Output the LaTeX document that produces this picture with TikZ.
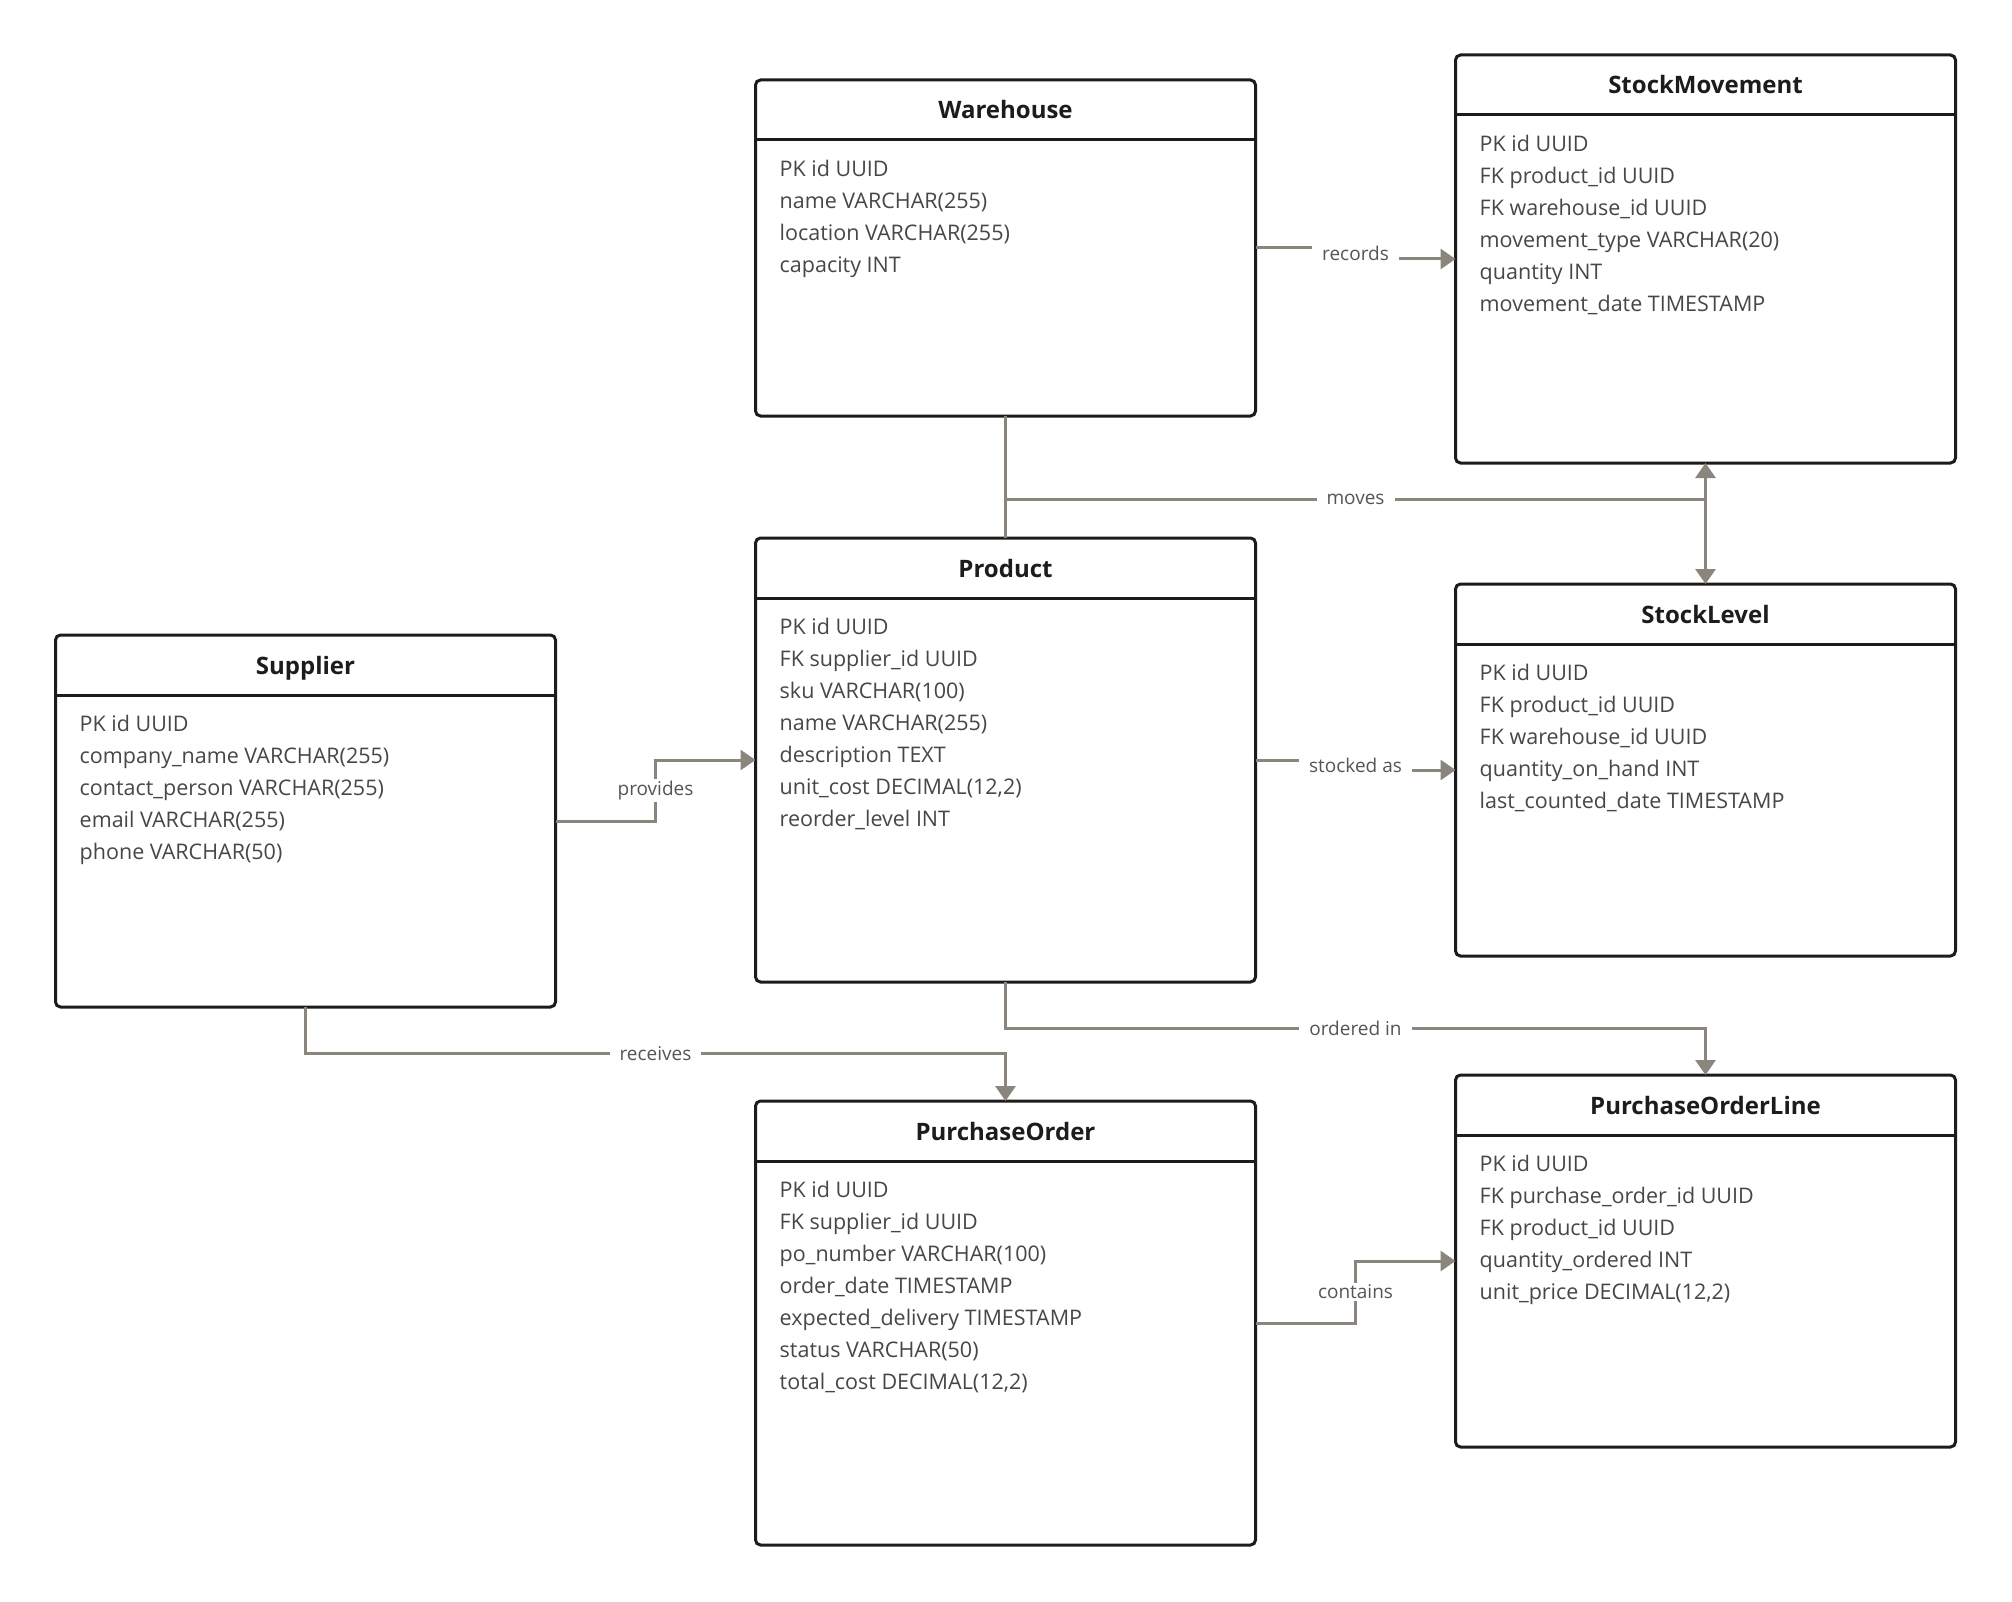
\documentclass[tikz,border=0pt]{standalone}
\usepackage{fontspec}
\setmainfont{Open Sans}
\usepackage{tikz}
\usetikzlibrary{arrows.meta, positioning, calc}
\usepackage{xcolor}

\definecolor{boxdark}{HTML}{1E1C1A}
\definecolor{relgray}{HTML}{8A857D}
\definecolor{fieldtext}{HTML}{474747}
\definecolor{labeltext}{HTML}{555555}

\begin{document}
\begin{tikzpicture}[
        x=1pt, y=-1pt,
        entity/.style={rectangle, draw=boxdark, line width=3pt, rounded corners=5pt, outer sep=0pt, minimum width=500pt, fill=white},
        etitle/.style={anchor=base, inner sep=0pt, text=boxdark, font=\fontsize{24}{28}\selectfont\bfseries},
        fields/.style={anchor=north west, inner sep=0pt, align=left, text=fieldtext, font=\fontsize{21.5}{32}\selectfont},
        headline/.style={draw=boxdark, line width=3pt},
        rel/.style={draw=relgray, line width=3pt, -{Triangle[length=15pt, width=20pt]}},
        lbl/.style={fill=white, inner xsep=10pt, inner ysep=2pt, text=labeltext, font=\fontsize{19}{22}\selectfont}
    ]
    \useasboundingbox (0,0) rectangle (2012,1602);

    % Warehouse
    \node[entity, minimum height=336pt] (warehouse) at (1005.5,248) {};
    \draw[headline] ([yshift=-60pt]warehouse.north west) -- ([yshift=-60pt]warehouse.north east);
    \node[etitle] (warehousetitle) at ([yshift=-39pt]warehouse.north) {Warehouse};
    \node[fields] (warehousefields) at ([xshift=24pt, yshift=-80pt]warehouse.north west) {PK id UUID\\name VARCHAR(255)\\location VARCHAR(255)\\capacity INT};

    % StockMovement
    \node[entity, minimum height=408pt] (stockmove) at (1705.5,259) {};
    \draw[headline] ([yshift=-60pt]stockmove.north west) -- ([yshift=-60pt]stockmove.north east);
    \node[etitle] (stockmovetitle) at ([yshift=-39pt]stockmove.north) {StockMovement};
    \node[fields] (stockmovefields) at ([xshift=24pt, yshift=-80pt]stockmove.north west) {PK id UUID\\FK product\_id UUID\\FK warehouse\_id UUID\\movement\_type VARCHAR(20)\\quantity INT\\movement\_date TIMESTAMP};

    % Product
    \node[entity, minimum height=444pt] (product) at (1005.5,760) {};
    \draw[headline] ([yshift=-60pt]product.north west) -- ([yshift=-60pt]product.north east);
    \node[etitle] (producttitle) at ([yshift=-39pt]product.north) {Product};
    \node[fields] (productfields) at ([xshift=24pt, yshift=-80pt]product.north west) {PK id UUID\\FK supplier\_id UUID\\sku VARCHAR(100)\\name VARCHAR(255)\\description TEXT\\unit\_cost DECIMAL(12,2)\\reorder\_level INT};

    % StockLevel
    \node[entity, minimum height=372pt] (stocklevel) at (1705.5,770) {};
    \draw[headline] ([yshift=-60pt]stocklevel.north west) -- ([yshift=-60pt]stocklevel.north east);
    \node[etitle] (stockleveltitle) at ([yshift=-39pt]stocklevel.north) {StockLevel};
    \node[fields] (stocklevelfields) at ([xshift=24pt, yshift=-80pt]stocklevel.north west) {PK id UUID\\FK product\_id UUID\\FK warehouse\_id UUID\\quantity\_on\_hand INT\\last\_counted\_date TIMESTAMP};

    % Supplier
    \node[entity, minimum height=372pt] (supplier) at (305.5,821) {};
    \draw[headline] ([yshift=-60pt]supplier.north west) -- ([yshift=-60pt]supplier.north east);
    \node[etitle] (suppliertitle) at ([yshift=-39pt]supplier.north) {Supplier};
    \node[fields] (supplierfields) at ([xshift=24pt, yshift=-80pt]supplier.north west) {PK id UUID\\company\_name VARCHAR(255)\\contact\_person VARCHAR(255)\\email VARCHAR(255)\\phone VARCHAR(50)};

    % PurchaseOrder
    \node[entity, minimum height=444pt] (porder) at (1005.5,1323) {};
    \draw[headline] ([yshift=-60pt]porder.north west) -- ([yshift=-60pt]porder.north east);
    \node[etitle] (pordertitle) at ([yshift=-39pt]porder.north) {PurchaseOrder};
    \node[fields] (porderfields) at ([xshift=24pt, yshift=-80pt]porder.north west) {PK id UUID\\FK supplier\_id UUID\\po\_number VARCHAR(100)\\order\_date TIMESTAMP\\expected\_delivery TIMESTAMP\\status VARCHAR(50)\\total\_cost DECIMAL(12,2)};

    % PurchaseOrderLine
    \node[entity, minimum height=372pt] (poline) at (1705.5,1261) {};
    \draw[headline] ([yshift=-60pt]poline.north west) -- ([yshift=-60pt]poline.north east);
    \node[etitle] (polinetitle) at ([yshift=-39pt]poline.north) {PurchaseOrderLine};
    \node[fields] (polinefields) at ([xshift=24pt, yshift=-80pt]poline.north west) {PK id UUID\\FK purchase\_order\_id UUID\\FK product\_id UUID\\quantity\_ordered INT\\unit\_price DECIMAL(12,2)};

    % Relations
    \draw[rel] (warehouse.east) -- ++(100,0) |- node[lbl, pos=0.25] {records} (stockmove.west);
    \draw[rel] (warehouse.south) -- ++(0,83) -| (stocklevel.north);
    \draw[rel] (product.north) -- ++(0,-39) -| node[lbl, pos=0.25] {moves} (stockmove.south);
    \draw[rel] (supplier.east) -- ++(100,0) |- node[lbl, pos=0.25] {provides} (product.west);
    \draw[rel] (product.east) -- ++(100,0) |- node[lbl, pos=0.25] {stocked as} (stocklevel.west);
    \draw[rel] (product.south) -- ++(0,46) -| node[lbl, pos=0.25] {ordered in} (poline.north);
    \draw[rel] (supplier.south) -- ++(0,46.5) -| node[lbl, pos=0.25] {receives} (porder.north);
    \draw[rel] (porder.east) -- ++(100,0) |- node[lbl, pos=0.25] {contains} (poline.west);

\end{tikzpicture}
\end{document}
